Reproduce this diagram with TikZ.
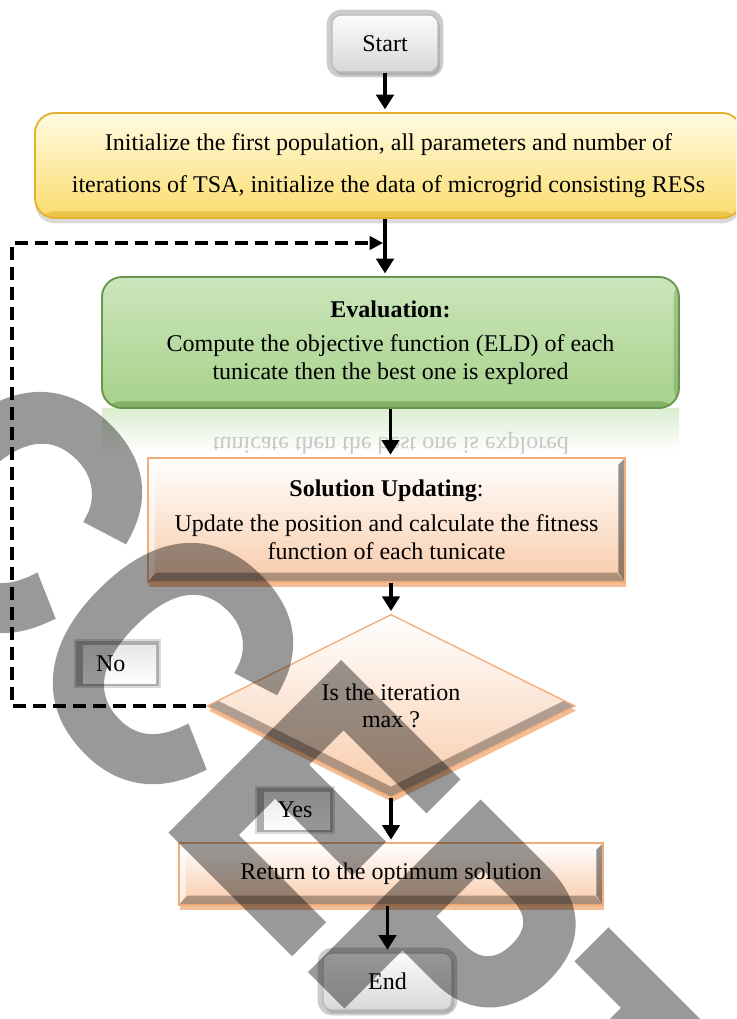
\documentclass[tikz,border=0pt]{standalone}
\usepackage{fontspec}
\setmainfont{Liberation Serif}
\newfontfamily\wmfont{Liberation Sans}[FakeBold=3]
\usetikzlibrary{shapes.geometric,arrows.meta,shadows}

\definecolor{initTop}{RGB}{255,251,226}
\definecolor{initMid}{RGB}{255,242,176}
\definecolor{initBot}{RGB}{251,220,108}
\definecolor{initLine}{RGB}{228,178,48}
\definecolor{evalTop}{RGB}{204,230,188}
\definecolor{evalBot}{RGB}{166,209,138}
\definecolor{evalLine}{RGB}{104,150,74}
\definecolor{peachBot}{RGB}{249,203,170}
\definecolor{peachLine}{RGB}{240,172,122}
\definecolor{greyTop}{RGB}{251,251,251}
\definecolor{greyBot}{RGB}{216,216,216}

\begin{document}
\begin{tikzpicture}[x=0.75pt,y=0.75pt,yscale=-1,xscale=1,
  every node/.style={font=\fontsize{18}{20.7}\selectfont, align=center, inner sep=0.75pt},
  termbox/.style={rectangle, rounded corners=7pt, draw=black!28, line width=0.8pt,
    top color=greyTop, bottom color=greyBot, minimum height=42.75pt,
    preaction={draw=black!20, line width=8pt},
    drop shadow={shadow xshift=1.5pt, shadow yshift=-2.5pt, opacity=.35}},
  initbox/.style={rectangle, rounded corners=15pt, draw=initLine, line width=1.4pt,
    top color=initTop, middle color=initMid, bottom color=initBot,
    drop shadow={shadow xshift=0pt, shadow yshift=-4pt, opacity=.3},
    path picture={\fill[initLine, opacity=.6] ([yshift=5pt]path picture bounding box.south west) rectangle (path picture bounding box.south east);}},
  evalbox/.style={rectangle, rounded corners=15pt, draw=evalLine, line width=1.4pt,
    top color=evalTop, bottom color=evalBot,
    path picture={\fill[evalLine, opacity=.55] ([yshift=5pt]path picture bounding box.south west) rectangle (path picture bounding box.south east);
      \fill[evalLine, opacity=.4] ([xshift=-4pt]path picture bounding box.north east) rectangle (path picture bounding box.south east);}},
  bevelbox/.style={rectangle, draw=peachLine, line width=1pt, top color=white, bottom color=peachBot,
    drop shadow={shadow xshift=1pt, shadow yshift=-3.5pt, fill=peachLine, opacity=.8},
    path picture={\fill[black, opacity=.3] (path picture bounding box.south west) -- ++(6pt,7pt) -- ([shift={(-6pt,7pt)}]path picture bounding box.south east) -- (path picture bounding box.south east) -- cycle;
      \fill[black, opacity=.42] (path picture bounding box.south east) -- ++(-5pt,7pt) -- ([shift={(-5pt,-5pt)}]path picture bounding box.north east) -- (path picture bounding box.north east) -- cycle;
      \fill[white, opacity=.6] (path picture bounding box.north west) -- ++(5pt,-5pt) -- ([shift={(5pt,7pt)}]path picture bounding box.south west) -- (path picture bounding box.south west) -- cycle;}},
  decbox/.style={diamond, draw=peachLine, line width=1pt, top color=white, bottom color=peachBot,
    drop shadow={shadow xshift=1pt, shadow yshift=-3.5pt, fill=peachLine, opacity=.8},
    path picture={\fill[black, opacity=.3] (path picture bounding box.west) -- (path picture bounding box.south) -- (path picture bounding box.east) -- ([yshift=8pt]path picture bounding box.east) -- ([yshift=8pt]path picture bounding box.south) -- ([yshift=8pt]path picture bounding box.west) -- cycle;}},
  button/.style={rectangle, draw=black!15, line width=0.8pt, fill=black!32,
    path picture={\shade[top color=black!10, bottom color=white] ([shift={(6pt,-4pt)}]path picture bounding box.north west) rectangle ([shift={(-3pt,3pt)}]path picture bounding box.south east);}},
  arr/.style={line width=2.6pt, -{Triangle[width=13pt,length=11pt]}, shorten >=2pt},
  loopline/.style={line width=2.4pt, dash pattern=on 10pt off 5pt, -{Triangle[width=10pt,length=10pt]}}
]
\useasboundingbox (0,0) rectangle (736,1019);
\clip (0,0) rectangle (736,1019);

% Text Node
\draw (385,43.5) node (start) [termbox, minimum width=79.5pt] {Start};
% Text Node
\draw (388.5,165.5) node (init) [initbox, minimum width=530.25pt, minimum height=78.75pt] {Initialize the first population, all parameters and number of\\[10.8pt] iterations of TSA, initialize the data of microgrid consisting RESs};
%Shape: reflection under the green box
\draw (390.5,430) node (evalglow) [rectangle, minimum width=432.75pt, minimum height=33pt, inner sep=0pt, top color=evalTop!70!white, bottom color=white] {};
\draw (391,437) node (evalmirror) [anchor=base, yscale=-1, text=black!22] {tunicate then the best one is explored};
% Text Node
\draw (390.5,342.5) node (eval) [evalbox, minimum width=432.75pt, minimum height=98.25pt] {\textbf{Evaluation:}\\[5.5pt] Compute the objective function (ELD) of each\\ tunicate then the best one is explored};
% Text Node
\draw (386.5,520) node (sol) [bevelbox, minimum width=357.75pt, minimum height=93pt] {\textbf{Solution Updating}:\\[5.5pt] Update the position and calculate the fitness\\ function of each tunicate};
% Text Node
\draw (391,706) node (dec) [decbox, minimum width=276pt, minimum height=117pt, inner sep=0pt] {Is the iteration\\ max ?};
% Text Node
\draw (391,874) node (ret) [bevelbox, minimum width=318pt, minimum height=46.5pt] {Return to the optimum solution};
% Text Node
\draw (387.5,981.5) node (finish) [termbox, minimum width=96.75pt] {End};
% Text Node
\draw (117.5,663.5) node (no) [button, minimum width=63.75pt, minimum height=35.25pt] {\hspace*{-10pt}No};
% Text Node
\draw (295,810) node (yes) [button, minimum width=58.5pt, minimum height=34.5pt] {Yes};

%Straight Lines
\draw [arr] (start.south) -- (start.south |- init.north);
\draw [arr] (start.south |- init.south) -- (start.south |- eval.north);
\draw [arr] (eval.south) -- (eval.south |- sol.north);
\draw [arr] (sol.south -| dec.north) -- (dec.north);
\draw [arr] (dec.south) -- (dec.south |- ret.north);
\draw [arr] (ret.south -| finish.north) -- (finish.north);
%Dashed loop back
\coordinate (loopcorner) at (12,243);
\coordinate (loopin) at (383,243);
\draw [loopline] (dec.west) -| (loopcorner) -- (loopin);

%Watermark
\begin{scope}[transparency group, opacity=.4]
\draw (-292,365) node (stamp) [anchor=base west, rotate=-45, xscale=0.87, inner sep=0pt, text=black, font=\wmfont\bfseries\fontsize{255}{255}\selectfont] {ACCEPTED};
\end{scope}

\end{tikzpicture}
\end{document}
